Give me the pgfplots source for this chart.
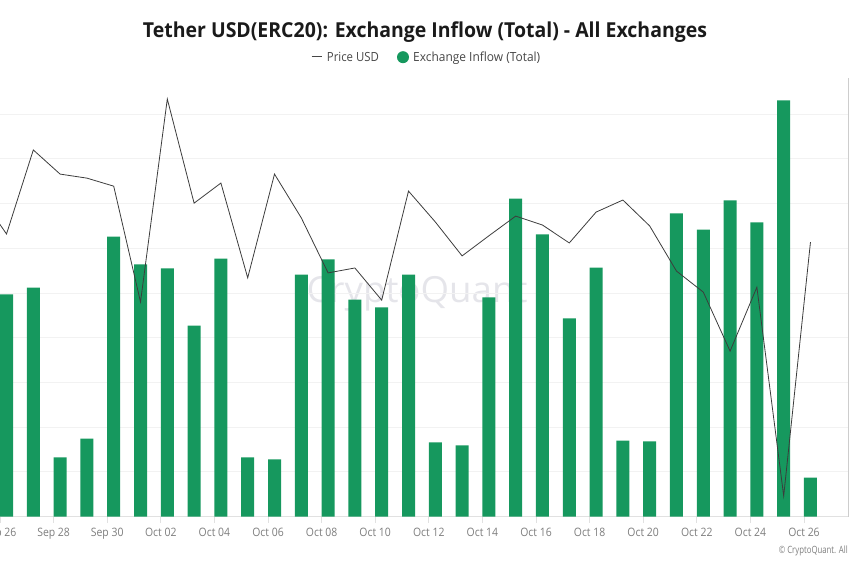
\documentclass[border=0pt]{standalone}
\usepackage{fontspec}
\setmainfont{Open Sans}[FakeStretch=0.9]
\usepackage{pgfplots}
\pgfplotsset{compat=1.18}
\usepackage{pgfplotstable}
\usepackage{graphicx}

\definecolor{cqgreen}{RGB}{22,152,94}
\definecolor{pricecol}{RGB}{60,60,60}
\definecolor{gridcol}{RGB}{242,242,242}
\definecolor{axiscol}{RGB}{225,225,225}
\definecolor{rightcol}{RGB}{205,205,205}
\definecolor{tickcol}{RGB}{125,125,125}
\definecolor{titlecol}{RGB}{26,26,26}
\definecolor{legcol}{RGB}{70,70,70}
\definecolor{wmcol}{RGB}{229,229,234}

% Exchange inflow (relative units), day 0 = Sep 26
\pgfplotstableread{
x y
0 4.97
1 5.12
2 1.32
3 1.74
4 6.26
5 5.64
6 5.55
7 4.27
8 5.77
9 1.32
10 1.28
11 5.41
12 5.75
13 4.85
14 4.68
15 5.41
16 1.66
17 1.59
18 4.90
19 7.11
20 6.31
21 4.43
22 5.57
23 1.70
24 1.68
25 6.78
26 6.42
27 7.07
28 6.58
29 9.31
30 0.87
}\inflow

% Price USD (relative units)
\pgfplotstableread{
x y
-1 7.19
0 6.32
1 8.20
2 7.66
3 7.57
4 7.39
5 4.80
6 9.34
7 7.01
8 7.46
9 5.34
10 7.66
11 6.68
12 5.45
13 5.56
14 4.84
15 7.28
16 6.59
17 5.83
18 6.28
19 6.72
20 6.52
21 6.12
22 6.81
23 7.08
24 6.50
25 5.49
26 5.02
27 3.70
28 5.13
29 0.46
30 6.14
}\price

\begin{document}
\begin{tikzpicture}
% watermark
\node[anchor=base, text=wmcol, inner sep=0pt] at (417bp,264bp)
  {\resizebox{221bp}{\height}{\fontsize{36bp}{40bp}\selectfont CryptoQuant}};

\begin{axis}[
  at={(0bp,50.5bp)}, anchor=south west,
  scale only axis, width=848bp, height=438.5bp,
  xmin=-0.243, xmax=31.40, ymin=0, ymax=9.81,
  clip=true,
  axis x line*=bottom, axis y line*=right,
  x axis line style={draw=axiscol, line width=1bp},
  y axis line style={draw=rightcol, line width=1bp},
  xtick={-0.242,1.758,3.758,5.758,7.758,9.758,11.758,13.758,15.758,17.758,19.758,21.758,23.758,25.758,27.758,29.758},
  xticklabels={Sep 26,Sep 28,Sep 30,Oct 02,Oct 04,Oct 06,Oct 08,Oct 10,Oct 12,Oct 14,Oct 16,Oct 18,Oct 20,Oct 22,Oct 24,Oct 26},
  tick align=outside,
  x tick style={draw=axiscol, line width=1bp},
  major tick length=6bp,
  xticklabel style={font=\fontsize{11.6bp}{13bp}\selectfont, text=tickcol, yshift=-2bp},
  ytick={1,2,3,4,5,6,7,8,9},
  yticklabels={},
  y tick style={draw=none},
  ymajorgrids,
  grid style={draw=gridcol, line width=1bp},
]
\addplot[ybar, bar width=0.485, fill=cqgreen, draw=none] table[x=x,y=y] {\inflow};
\addplot[draw=pricecol, line width=0.8bp, mark=none] table[x=x,y=y] {\price};
\end{axis}

% title
\node[anchor=base, text=titlecol, inner sep=0pt] at (425bp,529.7bp)
  {\resizebox{564bp}{\height}{\fontsize{20.6bp}{24bp}\selectfont\bfseries Tether USD(ERC20): Exchange Inflow (Total) - All Exchanges}};
% legend
\draw[draw=legcol, line width=0.8bp] (311.7bp,510.5bp) -- (321.7bp,510.5bp);
\node[anchor=base west, text=legcol, inner sep=0pt] at (326.7bp,505.3bp)
  {\resizebox{52bp}{\height}{\fontsize{12.6bp}{15bp}\selectfont Price USD}};
\fill[cqgreen] (403bp,509.8bp) circle (6bp);
\node[anchor=base west, text=legcol, inner sep=0pt] at (413bp,505.3bp)
  {\resizebox{127bp}{\height}{\fontsize{12.6bp}{15bp}\selectfont Exchange Inflow (Total)}};
% copyright
\node[anchor=base east, text=tickcol, inner sep=0pt] at (848bp,13.5bp)
  {\resizebox{69bp}{\height}{\fontsize{10bp}{12bp}\selectfont © CryptoQuant. All}};

\pgfresetboundingbox
\useasboundingbox (0bp,0bp) rectangle (850bp,567bp);
\end{tikzpicture}
\end{document}
